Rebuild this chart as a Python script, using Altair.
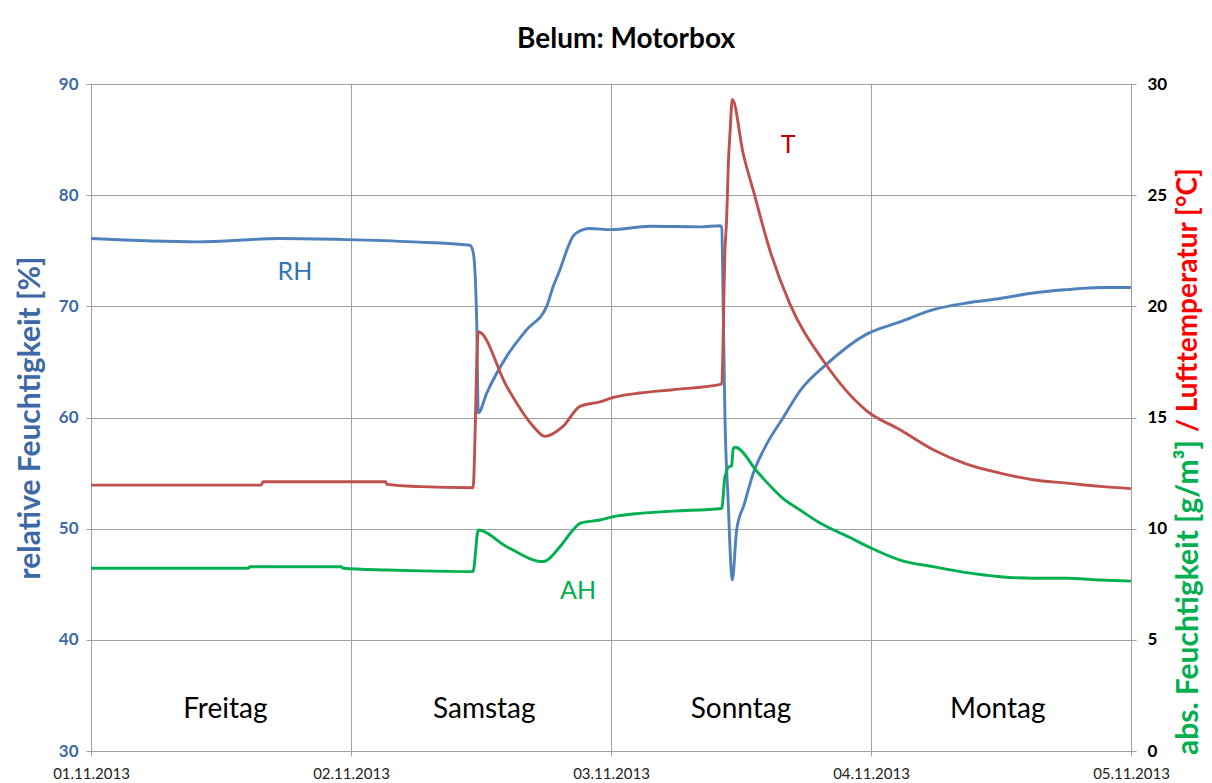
import altair as alt
import pandas as pd

BASE = pd.Timestamp("2013-11-01 00:00")

# ---- data (hours after 01.11.2013 00:00) ----
rh_hours = [0, 9.76, 17.45, 23.6, 29.75, 34.98, 35.29, 35.6, 35.75, 36.53, 38.37, 40.22, 42.06,
            42.67, 43.29, 44.06, 44.49, 45.44, 46.06, 48.0, 51.6, 56.22, 58.06, 58.22, 58.37,
            58.52, 58.8, 59.2, 59.6, 60.3, 61.14, 62.37, 63.9, 65.45, 67.91, 71.6, 74.68,
            77.75, 80.83, 83.91, 86.95, 90.06, 93.14, 96]
rh_values = [76.1, 75.8, 76.1, 76.0, 75.8, 75.5, 74.8, 68.8, 60.4, 62.2, 65.5, 67.9, 70.0,
             71.8, 73.3, 75.4, 76.3, 76.9, 77.0, 76.9, 77.2, 77.15, 77.25, 77.1, 69.0,
             60.0, 52.8, 45.4, 49.9, 52.2, 55.0, 57.6, 60.0, 62.4, 64.8, 67.5, 68.6,
             69.7, 70.3, 70.7, 71.2, 71.5, 71.7, 71.7]

t_hours = [0, 15.7, 15.88, 27.2, 27.32, 30.37, 35.26, 35.75, 38.37, 40.83, 41.91, 43.57,
           45.14, 46.98, 48.18, 50.68, 53.72, 58.22, 58.52, 58.68, 58.83, 58.98, 59.2,
           60.21, 61.14, 62.68, 64.52, 67.6, 71.6, 74.68, 77.75, 80.83, 83.91, 86.95,
           90.06, 93.14, 96]
t_values = [11.96, 11.96, 12.11, 12.11, 11.99, 11.89, 11.84, 18.86, 16.4, 14.6, 14.15, 14.6,
            15.5, 15.7, 15.9, 16.1, 16.25, 16.5, 22.5, 24.0, 26.4, 27.75, 29.3,
            26.85, 25.2, 22.5, 20.1, 17.55, 15.3, 14.45, 13.55, 12.9, 12.5, 12.2,
            12.05, 11.9, 11.8]

ah_hours = [0, 14.5, 14.68, 23.1, 23.26, 27.32, 30.37, 35.26, 35.75, 38.37, 41.75, 43.29,
            44.49, 45.14, 46.98, 48.22, 50.68, 53.72, 58.22, 58.52, 58.98, 59.12, 59.29,
            59.45, 61.6, 63.9, 65.45, 67.3, 70.06, 72.0, 74.68, 77.75, 80.83, 83.91,
            86.95, 90.06, 93.14, 96]
ah_values = [8.22, 8.22, 8.29, 8.29, 8.22, 8.14, 8.1, 8.07, 9.94, 9.19, 8.52, 9.19,
             9.94, 10.24, 10.39, 10.54, 10.69, 10.79, 10.91, 12.34, 12.8, 12.8, 13.6,
             13.66, 12.5, 11.35, 10.84, 10.25, 9.6, 9.13, 8.59, 8.29, 8.02, 7.84,
             7.77, 7.77, 7.69, 7.64]

day_names = ["Freitag", "Samstag", "Sonntag", "Montag"]
day_hours = [12.4, 36.3, 60.0, 83.7]
day_value = [33.7, 33.7, 33.7, 33.7]

series_labels = ["RH", "T", "AH"]
series_label_hours = [18.83, 64.34, 44.95]
series_label_values = [73.1, 27.26, 7.19]

left_ticks = [30, 40, 50, 60, 70, 80, 90]
right_ticks = [0, 5, 10, 15, 20, 25, 30]
right_title_parts = ["abs. Feuchtigkeit [g/m³]", "/ Lufttemperatur [°C]"]
left_title = "relative Feuchtigkeit [%]"
chart_title = "Belum: Motorbox"

FONT = "Lato"
GRID = "#a0a0a0"
BLUE = "#4F81BD"
RED = "#C0504D"
GREEN = "#00B050"
AXBLUE = "#3D6AA6"


def to_time(hours):
    return [(BASE + pd.Timedelta(hours=h)).strftime("%Y-%m-%dT%H:%M:%S") for h in hours]


rh_df = pd.DataFrame({"time": to_time(rh_hours), "value": rh_values})
t_df = pd.DataFrame({"time": to_time(t_hours), "value": t_values})
ah_df = pd.DataFrame({"time": to_time(ah_hours), "value": ah_values})
day_df = pd.DataFrame({"time": to_time(day_hours), "value": day_value, "label": day_names})
rh_lab = pd.DataFrame({"time": to_time(series_label_hours[:1]), "value": series_label_values[:1],
                       "label": series_labels[:1]})
t_lab = pd.DataFrame({"time": to_time(series_label_hours[1:2]), "value": series_label_values[1:2],
                      "label": series_labels[1:2]})
ah_lab = pd.DataFrame({"time": to_time(series_label_hours[2:]), "value": series_label_values[2:],
                       "label": series_labels[2:]})
rt_green = pd.DataFrame({"label": right_title_parts[:1]})
rt_red = pd.DataFrame({"label": right_title_parts[1:]})

xscale = alt.Scale(domain=[alt.DateTime(year=2013, month=11, date=1),
                           alt.DateTime(year=2013, month=11, date=5)], nice=False)
yl = alt.Scale(domain=[30, 90], zero=False, nice=False)
yr = alt.Scale(domain=[0, 30], zero=False, nice=False)

x_axis = alt.Axis(
    values=[alt.DateTime(year=2013, month=11, date=d) for d in range(1, 6)],
    format="%d.%m.%Y", title=None, grid=True, gridColor=GRID, domainColor=GRID,
    tickColor=GRID, tickSize=5, labelFont=FONT, labelFontSize=15, labelColor="#222222",
    labelPadding=10, labelFlush=False,
)
left_axis = alt.Axis(
    orient="left", values=left_ticks, grid=True, gridColor=GRID,
    domainColor=GRID, tickColor=GRID, tickSize=5, labelFont=FONT, labelFontSize=17,
    labelFontWeight="bold", labelColor=AXBLUE, labelPadding=8,
    title=left_title, titleFont=FONT, titleFontSize=30, titleFontWeight="bold",
    titleColor=AXBLUE, titleAngle=270, titleX=-61, titleY=333.5,
    titleBaseline="middle", titleAlign="center")
right_axis = alt.Axis(
    orient="right", values=right_ticks, grid=False, domainColor=GRID,
    tickColor=GRID, tickSize=5, labelFont=FONT, labelFontSize=17, labelFontWeight="bold",
    labelColor="#000000", labelPadding=11, title=None)

x_enc = alt.X("time:T", scale=xscale, axis=x_axis)
yl_enc = alt.Y("value:Q", scale=yl, axis=left_axis)
yr_enc = alt.Y("value:Q", scale=yr, axis=right_axis)

rh_line = alt.Chart(rh_df).mark_line(color=BLUE, strokeWidth=2.9, interpolate="monotone").encode(
    x=x_enc, y=yl_enc)
rh_text = alt.Chart(rh_lab).mark_text(font=FONT, fontSize=25, color="#2E75B6").encode(
    x=x_enc, y=yl_enc, text="label:N")
day_text = alt.Chart(day_df).mark_text(font=FONT, fontSize=28, color="#000000").encode(
    x=x_enc, y=yl_enc, text="label:N")

left = alt.layer(rh_line, rh_text, day_text)

t_line = alt.Chart(t_df).mark_line(color=RED, strokeWidth=2.9, interpolate="monotone").encode(
    x=x_enc, y=yr_enc)
ah_line = alt.Chart(ah_df).mark_line(color=GREEN, strokeWidth=2.9, interpolate="monotone").encode(
    x=x_enc, y=yr_enc)
t_text = alt.Chart(t_lab).mark_text(font=FONT, fontSize=25, color="#C00000").encode(
    x=x_enc, y=yr_enc, text="label:N")
ah_text = alt.Chart(ah_lab).mark_text(font=FONT, fontSize=25, color=GREEN).encode(
    x=x_enc, y=yr_enc, text="label:N")
rt1 = alt.Chart(rt_green).mark_text(font=FONT, fontSize=30, fontWeight="bold", color=GREEN,
                                    angle=270, align="right", baseline="middle").encode(
    x=alt.value(1098), y=alt.value(356), text="label:N")
rt2 = alt.Chart(rt_red).mark_text(font=FONT, fontSize=28, fontWeight="bold", color="#FF0000",
                                  angle=270, align="left", baseline="middle").encode(
    x=alt.value(1098), y=alt.value(348), text="label:N")

right = alt.layer(t_line, ah_line, t_text, ah_text, rt1, rt2)

chart = alt.layer(left, right).resolve_scale(y="independent").properties(
    width=1040, height=667,
    padding={"left": 83, "top": 76, "right": 73, "bottom": 30},
    autosize=alt.AutoSizeParams(type="none"),
    title=alt.TitleParams(chart_title, font=FONT, fontSize=28, fontWeight="bold",
                          color="#000000", anchor="middle", dx=15, offset=21),
).configure_view(stroke=GRID)

chart.save("out.html", embed_options={"renderer": "svg", "actions": False})
